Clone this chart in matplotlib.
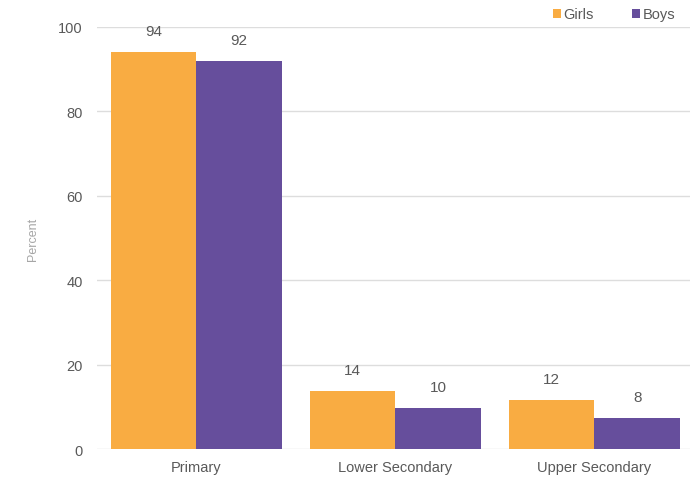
import numpy as np
import matplotlib.pyplot as plt

plt.rcParams['font.family'] = ['Liberation Sans', 'DejaVu Sans']

categories = ['Primary', 'Lower Secondary', 'Upper Secondary']
girls = [94, 13.8, 11.7]
boys = [92, 9.8, 7.5]
girls_labels = ['94', '14', '12']
boys_labels = ['92', '10', '8']

c_girls = '#F9AC42'
c_boys = '#664E9C'
txt = '#595959'

fig = plt.figure(figsize=(6.97, 4.81), dpi=100)
ax = fig.add_axes([0.139, 0.064, 0.851, 0.878])

x = np.arange(len(categories))
w = 0.43
b1 = ax.bar(x - w / 2, girls, w, color=c_girls, label='Girls', zorder=3)
b2 = ax.bar(x + w / 2, boys, w, color=c_boys, label='Boys', zorder=3)

for bars, labs in [(b1, girls_labels), (b2, boys_labels)]:
    for r, lab in zip(bars, labs):
        ax.annotate(lab, (r.get_x() + r.get_width() / 2, r.get_height()),
                    xytext=(0, 10), textcoords='offset points',
                    ha='center', va='bottom', fontsize=11, color=txt)

ax.set_xlim(-0.5, 2.48)
ax.set_ylim(0, 100)
ax.set_yticks([0, 20, 40, 60, 80, 100])
ax.set_xticks(x)
ax.set_xticklabels(categories)
ax.grid(axis='y', color='#dddddd', linewidth=1, zorder=0)
ax.tick_params(axis='both', length=0, colors=txt, labelsize=10.5)
ax.tick_params(axis='y', pad=10)
ax.tick_params(axis='x', pad=8)
for s in ax.spines.values():
    s.set_visible(False)
ax.set_ylabel('Percent', color='#a6a6a6', fontsize=9, labelpad=14)

ax.legend(loc='upper right', bbox_to_anchor=(0.985, 1.06), ncol=2, frameon=False,
          fontsize=10.5, labelcolor=txt, handlelength=0.55, handleheight=0.55,
          handletextpad=0.2, columnspacing=2.6, borderaxespad=0)

fig.savefig('out.png', dpi=100)
